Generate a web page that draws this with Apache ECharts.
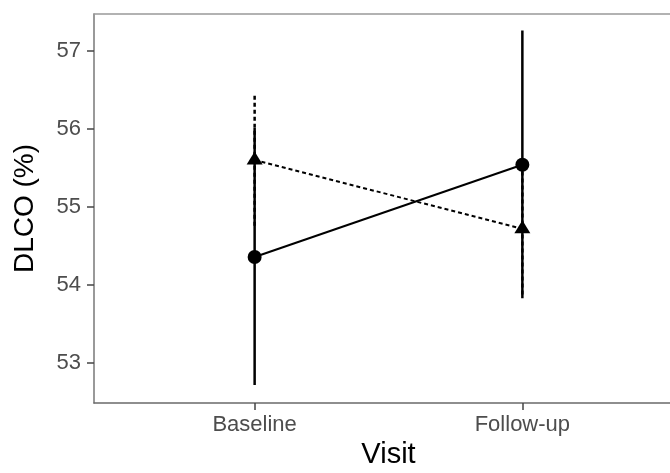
<!DOCTYPE html>
<html>
<head>
<meta charset="utf-8">
<script src="https://cdn.jsdelivr.net/npm/echarts@6/dist/echarts.min.js"></script>
<style>
html,body{margin:0;padding:0;background:#fff;}
#chart{width:670px;height:473px;}
</style>
</head>
<body>
<div id="chart"></div>
<script>
// ---- data ----
const categories = ['Baseline', 'Follow-up'];
const yTicks = [53, 54, 55, 56, 57];

// group shown with circles and solid line
const circleMean  = [54.36, 55.54];
const circleLower = [52.72, 53.83];
const circleUpper = [56.01, 57.26];

// group shown with triangles and dashed line
const triMean  = [55.60, 54.72];
const triLower = [54.76, 53.88];
const triUpper = [56.45, 55.56];

// ---- build ----
const xPos = categories.map((c, i) => i + 1);
const FONT = 'Liberation Sans, Arial, sans-serif';

function barData(lower, upper) {
  return xPos.map((x, i) => [x, lower[i], upper[i]]);
}
function ptData(mean) {
  return xPos.map((x, i) => [x, mean[i]]);
}
function errRender(dashed) {
  return function (params, api) {
    const x = api.value(0);
    const p1 = api.coord([x, api.value(1)]);
    const p2 = api.coord([x, api.value(2)]);
    return {
      type: 'line',
      shape: { x1: p1[0], y1: p1[1], x2: p2[0], y2: p2[1] },
      style: { stroke: '#000', lineWidth: 2.5, lineDash: dashed ? [4, 3] : null }
    };
  };
}

const chart = echarts.init(document.getElementById('chart'), null, { renderer: 'canvas' });
chart.setOption({
  animation: false,
  backgroundColor: '#fff',
  grid: {
    left: 94, width: 589, top: 14, height: 389,
    outerBoundsMode: 'none', containLabel: false, show: false
  },
  xAxis: [{
    type: 'value',
    min: 0.4, max: 2.6,
    splitLine: { show: false },
    axisLine: { show: true, lineStyle: { color: '#6a6a6a', width: 1.5 } },
    axisTick: { show: true, length: 7, customValues: xPos, lineStyle: { color: '#444', width: 1.5 } },
    axisLabel: {
      customValues: xPos,
      formatter: v => categories[Math.round(v) - 1] || '',
      color: '#4d4d4d', fontSize: 22, fontFamily: FONT, margin: 11
    },
    name: 'Visit', nameLocation: 'middle', nameGap: 37,
    nameTextStyle: { color: '#000', fontSize: 29, fontFamily: FONT }
  }, {
    type: 'value', position: 'top',
    min: 0.4, max: 2.6,
    splitLine: { show: false },
    axisLine: { show: true, lineStyle: { color: '#999', width: 1.5 } },
    axisTick: { show: false },
    axisLabel: { show: false }
  }],
  yAxis: {
    type: 'value',
    min: 52.49, max: 57.47,
    splitLine: { show: false },
    axisLine: { show: true, lineStyle: { color: '#777', width: 1.5 } },
    axisTick: { show: true, length: 7, customValues: yTicks, lineStyle: { color: '#444', width: 1.5 } },
    axisLabel: {
      customValues: yTicks,
      color: '#4d4d4d', fontSize: 22, fontFamily: FONT, margin: 13
    },
    name: 'DLCO (%)', nameLocation: 'middle', nameGap: 55,
    nameTextStyle: { color: '#000', fontSize: 28, fontFamily: FONT }
  },
  series: [
    { type: 'custom', data: barData(triLower, triUpper), renderItem: errRender(true), z: 2 },
    { type: 'custom', data: barData(circleLower, circleUpper), renderItem: errRender(false), z: 3 },
    {
      type: 'line', data: ptData(triMean), z: 4,
      lineStyle: { color: '#000', width: 2, type: [4, 3] },
      symbol: 'triangle', symbolSize: [16, 13], symbolOffset: [0, -2],
      itemStyle: { color: '#000' }, showSymbol: true
    },
    {
      type: 'line', data: ptData(circleMean), z: 5,
      lineStyle: { color: '#000', width: 2 },
      symbol: 'circle', symbolSize: 14,
      itemStyle: { color: '#000' }, showSymbol: true
    }
  ]
});
</script>
</body>
</html>
